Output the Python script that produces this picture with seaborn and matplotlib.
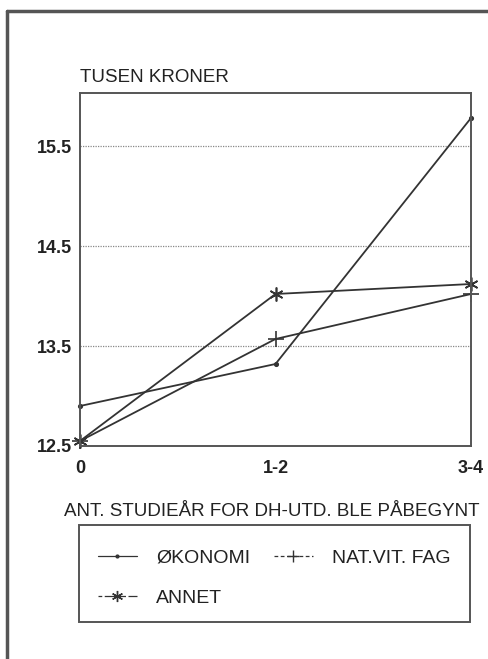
import numpy as np
import matplotlib
matplotlib.use("Agg")
import matplotlib.pyplot as plt
from matplotlib.lines import Line2D
from matplotlib.patches import Rectangle
import pandas as pd
import seaborn as sns

# data (tusen kroner)
studieaar = ["0", "1-2", "3-4"]
okonomi = [12.9, 13.32, 15.78]
natvit = [12.55, 13.57, 14.02]
annet = [12.55, 14.02, 14.12]
serier = ["ØKONOMI", "NAT.VIT. FAG", "ANNET"]
yticks = [12.5, 13.5, 14.5, 15.5]

df = pd.DataFrame({
    "aar": studieaar * 3,
    "pos": list(range(len(studieaar))) * 3,
    "verdi": okonomi + natvit + annet,
    "fag": [s for s in serier for _ in studieaar],
})

sns.set_style("white")
plt.rcParams["font.family"] = ["Liberation Sans", "DejaVu Sans"]

fig = plt.figure(figsize=(4.88, 6.59), dpi=100)
ax = fig.add_axes([80 / 488, 1 - 446 / 659, 391 / 488, 353 / 659])

farge = "#333333"
tekst = "#222222"
markers = {"ØKONOMI": ".", "NAT.VIT. FAG": "+", "ANNET": (6, 2, 0)}
msize = {"ØKONOMI": 5, "NAT.VIT. FAG": 11, "ANNET": 10}
for fag in serier:
    sub = df[df["fag"] == fag]
    sns.lineplot(data=sub, x="pos", y="verdi", color=farge, marker=markers[fag],
                 markersize=msize[fag], markeredgewidth=1.2, markeredgecolor=farge,
                 linewidth=1.3, legend=False, ax=ax, clip_on=False)

ax.set_xlim(0, 2)
ax.set_ylim(12.5, 16.03)
ax.set_xticks(range(len(studieaar)))
ax.set_xticklabels(studieaar, fontsize=13, fontweight="bold", color=tekst)
ax.set_yticks(yticks)
ax.set_yticklabels([f"{v:.1f}" for v in yticks], fontsize=13,
                   fontweight="bold", color=tekst)
ax.tick_params(axis="both", length=3, direction="in", color="#555555")
ax.tick_params(axis="x", pad=10)
ax.tick_params(axis="y", pad=6)
for v in yticks[1:]:
    ax.axhline(v, color="#888888", linestyle=(0, (1, 1)), linewidth=0.9, zorder=0)
for s in ax.spines.values():
    s.set_color("#555555")
    s.set_linewidth(1.4)

ax.set_xlabel("ANT. STUDIEÅR FOR DH-UTD. BLE PÅBEGYNT", fontsize=13.5,
              color=tekst, va="center")
ax.xaxis.set_label_coords((272 - 80) / 391, -(512 - 446) / 353)
ax.set_ylabel("")
fig.text(80 / 488, 1 - 77 / 659, "TUSEN KRONER", fontsize=13.5,
         color=tekst, ha="left", va="center")

# legend: order so that columns read ØKONOMI / ANNET and NAT.VIT. FAG
handles = {
    "ØKONOMI": Line2D([], [], color=farge, linestyle="-", marker=".", markersize=4, linewidth=0.9),
    "NAT.VIT. FAG": Line2D([], [], color=farge, linestyle=(0, (3, 2)), marker="+", markersize=8, linewidth=0.9),
    "ANNET": Line2D([], [], color=farge, linestyle=(0, (3, 2, 14, 0)), marker=(6, 2, 0), markersize=8, linewidth=0.9),
}
rekkefolge = ["ØKONOMI", "ANNET", "NAT.VIT. FAG"]
leg = fig.legend(handles=[handles[k] for k in rekkefolge], labels=rekkefolge, ncol=2,
                 loc="upper left", bbox_to_anchor=(98 / 488, 1 - 549 / 659),
                 fontsize=14, frameon=False, labelspacing=1.15, handlelength=2.0,
                 borderpad=0, borderaxespad=0, handletextpad=1.0, columnspacing=1.2)
for t in leg.get_texts():
    t.set_color(tekst)
fig.add_artist(Rectangle((79 / 488, 1 - 622 / 659), 391 / 488, 97 / 659, fill=False,
                         edgecolor="#555555", linewidth=1.4, transform=fig.transFigure))

# outer frame
fig.add_artist(Line2D([7 / 488, 7 / 488], [0, 1 - 11 / 659], color="#555555", linewidth=2.5,
                      transform=fig.transFigure))
fig.add_artist(Line2D([7 / 488, 1], [1 - 11 / 659, 1 - 11 / 659], color="#555555", linewidth=2.5,
                      transform=fig.transFigure))

fig.savefig("out.png", dpi=100)
